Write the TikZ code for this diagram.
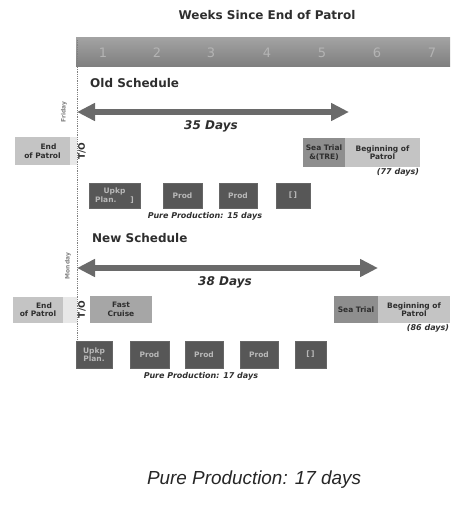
\documentclass[tikz,border=0pt]{standalone}
\usepackage{fontspec}
\setmainfont{DejaVu Sans}
\newfontfamily\capfont{Liberation Sans}
\usetikzlibrary{arrows.meta}
\definecolor{bardark}{HTML}{7E7E7E}
\definecolor{barlight}{HTML}{A2A2A2}
\definecolor{numcol}{HTML}{B4B4B4}
\definecolor{arrcol}{HTML}{6A6A6A}
\definecolor{txtdark}{HTML}{2E2E2E}
\definecolor{lightbox}{HTML}{C4C4C4}
\definecolor{midbox}{HTML}{A6A6A6}
\definecolor{seabox}{HTML}{8E8E8E}
\definecolor{prodbox}{HTML}{575757}
\definecolor{prodtxt}{HTML}{B8B8B8}
\begin{document}
\begin{tikzpicture}[x=1pt,y=-1pt,
  heading/.style={font=\bfseries\fontsize{12}{14}\selectfont, text=txtdark, inner sep=0pt},
  weeknum/.style={font=\fontsize{13}{15}\selectfont, text=numcol, inner sep=0pt},
  daylabel/.style={font=\bfseries\itshape\fontsize{12}{14}\selectfont, text=txtdark, inner sep=0pt},
  smallnote/.style={font=\bfseries\itshape\fontsize{8}{9.5}\selectfont, text=txtdark, inner sep=0pt},
  sidelabel/.style={font=\bfseries\fontsize{6}{7}\selectfont, text=gray, rotate=90, inner sep=0pt},
  tolabel/.style={font=\bfseries\fontsize{9}{10}\selectfont, text=txtdark, rotate=90, inner sep=0pt},
  boxtext/.style={font=\bfseries\fontsize{7.5}{8.5}\selectfont, align=center, inner sep=0pt},
  endbox/.style={boxtext, fill=lightbox, text=txtdark},
  tobox/.style={fill=gray!18, inner sep=0pt},
  seatrialbox/.style={boxtext, fill=seabox, text=txtdark},
  beginbox/.style={boxtext, fill=lightbox, text=txtdark},
  cruisebox/.style={boxtext, fill=midbox, text=txtdark},
  prodstep/.style={boxtext, fill=prodbox, draw=gray!80!black, line width=0.6pt, text=prodtxt},
  bigarrow/.style={line width=6pt, draw=arrcol,
    {Triangle[length=18pt,width=17pt]}-{Triangle[length=18pt,width=17pt]}},
  guide/.style={densely dotted, draw=gray, line width=0.8pt}
]
\useasboundingbox (0,0) rectangle (450,505);

% title and week bar
\node[heading] (title) at (267,15) {Weeks Since End of Patrol};
\node[minimum width=374pt, minimum height=29pt, inner sep=0pt,
      top color=barlight, bottom color=bardark] (bar) at (263,52.5) {};
\node[weeknum] (w1) at (103,52.5) {1};
\node[weeknum] (w2) at (157,52.5) {2};
\node[weeknum] (w3) at (211,52.5) {3};
\node[weeknum] (w4) at (267,52.5) {4};
\node[weeknum] (w5) at (322,52.5) {5};
\node[weeknum] (w6) at (377,52.5) {6};
\node[weeknum] (w7) at (432,52.5) {7};

% vertical guide
\coordinate (gtop) at (77,40);
\coordinate (gbot) at (77,341);
\draw[guide] (gtop) -- (gbot);

% ---------- old schedule ----------
\node[heading, anchor=west] (oldh) at (90,83) {Old Schedule};
\node[sidelabel] (fri) at (64,112) {Friday};
\coordinate (oa) at (77,112);
\coordinate (ob) at (349,112);
\draw[bigarrow] (oa) -- (ob);
\node[daylabel] (od) at (211,126) {35 Days};

\node[endbox, minimum width=55pt, minimum height=28pt] (oend) at (42.5,151) {\hspace*{12pt}End\\of Patrol};
\node[tobox, minimum width=7pt, minimum height=28pt] (ostripe) at (73.5,151) {};
\node[tolabel] (oto) at (82,151) {T/O};
\node[seatrialbox, minimum width=42pt, minimum height=29pt] (osea) at (324,152.5) {Sea Trial\\\&(TRE)};
\node[beginbox, minimum width=75pt, minimum height=29pt] (obeg) at (382.5,152.5) {Beginning of\\Patrol};
\node[smallnote] (odays) at (398,172) {(77 days)};

\node[prodstep, minimum width=51pt, minimum height=25pt] (op1) at (114.5,195.5) {Upkp\\Plan.\hspace*{14pt}]};
\node[prodstep, minimum width=39pt, minimum height=25pt] (op2) at (182.5,195.5) {Prod};
\node[prodstep, minimum width=38pt, minimum height=25pt] (op3) at (238,195.5) {Prod};
\node[prodstep, minimum width=34pt, minimum height=25pt] (op4) at (293,195.5) {[\,]};
\node[smallnote] (opure) at (205,216) {Pure Production: 15 days};

% ---------- new schedule ----------
\node[heading, anchor=west] (newh) at (92,238) {New Schedule};
\node[sidelabel] (mon) at (68,266) {Monday};
\coordinate (na) at (77,268);
\coordinate (nb) at (378,268);
\draw[bigarrow] (na) -- (nb);
\node[daylabel] (nd) at (225,282) {38 Days};

\node[endbox, minimum width=50pt, minimum height=26pt] (nend) at (38,309.5) {\hspace*{12pt}End\\of Patrol};
\node[tobox, minimum width=14pt, minimum height=26pt] (nstripe) at (70,309.5) {};
\node[tolabel] (nto) at (82,309.5) {T/O};
\node[cruisebox, minimum width=62pt, minimum height=27pt] (ncru) at (121,309.5) {Fast\\Cruise};
\node[seatrialbox, minimum width=44pt, minimum height=27pt] (nsea) at (356,309.5) {Sea Trial};
\node[beginbox, minimum width=72pt, minimum height=27pt] (nbeg) at (414,309.5) {Beginning of\\Patrol};
\node[smallnote] (ndays) at (428,328) {(86 days)};

\node[prodstep, minimum width=36pt, minimum height=27pt] (np1) at (94,354.5) {Upkp\\Plan.};
\node[prodstep, minimum width=39pt, minimum height=27pt] (np2) at (149.5,354.5) {Prod};
\node[prodstep, minimum width=38pt, minimum height=27pt] (np3) at (204,354.5) {Prod};
\node[prodstep, minimum width=38pt, minimum height=27pt] (np4) at (259,354.5) {Prod};
\node[prodstep, minimum width=31pt, minimum height=27pt] (np5) at (310.5,354.5) {[\,]};
\node[smallnote] (npure) at (201,376) {Pure Production: 17 days};

% caption
\node[font=\capfont\itshape\fontsize{18.9}{22}\selectfont, text=black!85, inner sep=0pt] (cap) at (254,480) {Pure Production: 17 days};
\end{tikzpicture}
\end{document}
